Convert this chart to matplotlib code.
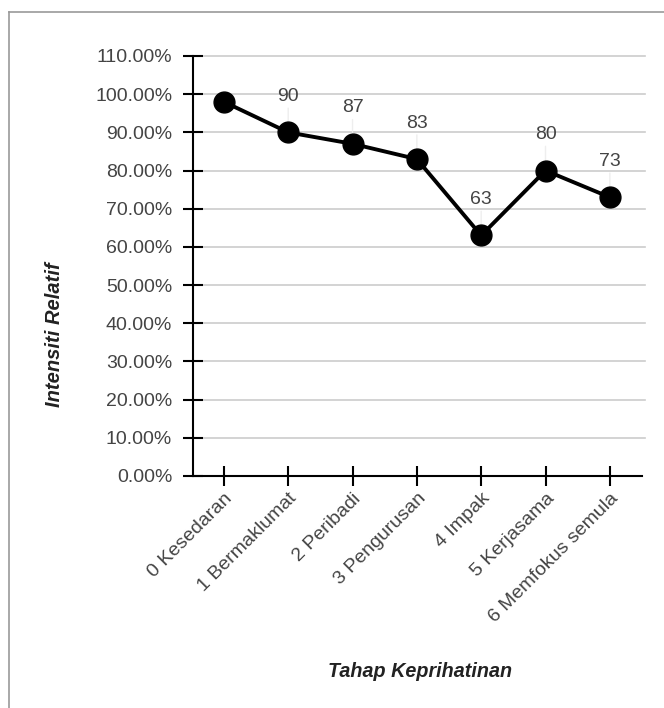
import matplotlib
matplotlib.use("Agg")
import matplotlib.pyplot as plt
from matplotlib.ticker import PercentFormatter
from matplotlib.lines import Line2D

categories = ["0 Kesedaran", "1 Bermaklumat", "2 Peribadi", "3 Pengurusan",
              "4 Impak", "5 Kerjasama", "6 Memfokus semula"]
values = [0.98, 0.90, 0.87, 0.83, 0.63, 0.80, 0.73]
point_labels = ["", "90", "87", "83", "63", "80", "73"]
yticks = [0.0, 0.1, 0.2, 0.3, 0.4, 0.5, 0.6, 0.7, 0.8, 0.9, 1.0, 1.1]

plt.rcParams['font.family'] = ['Liberation Sans', 'DejaVu Sans']

W, H = 664, 708
fig = plt.figure(figsize=(W / 100, H / 100), dpi=100)
ax = fig.add_axes([193 / W, (H - 476) / H, (642 - 193) / W, (476 - 56) / H])

x = list(range(len(categories)))

ax.set_xlim(-0.48, 6.5)
ax.set_ylim(0, 1.1)
ax.set_yticks(yticks)
ax.yaxis.set_major_formatter(PercentFormatter(1.0, decimals=2))
ax.set_xticks(x)
ax.set_xticklabels(categories, rotation=45, ha='right', rotation_mode='anchor')

for yt in yticks[1:]:
    ax.axhline(yt, xmin=0, xmax=1.007, color='#cccccc', lw=1.2, zorder=1, clip_on=False)

# leader lines and value labels
for xi, v, lab in zip(x, values, point_labels):
    if lab:
        ax.annotate(lab, xy=(xi, v), xytext=(0, 36), textcoords='offset pixels',
                    ha='center', va='center', fontsize=14, color='#444444', zorder=2)
        ax.annotate("", xy=(xi, v), xytext=(0, 27), textcoords='offset pixels',
                    arrowprops=dict(arrowstyle='-', color='#eeeeee', lw=1), zorder=2)

ax.plot(x, values, color='black', lw=2.8, marker='o', markersize=15,
        markerfacecolor='black', markeredgecolor='black', zorder=4, clip_on=False)

for s in ['top', 'right']:
    ax.spines[s].set_visible(False)
ax.spines['left'].set_linewidth(1.5)
ax.spines['bottom'].set_linewidth(1.5)
ax.tick_params(axis='both', direction='inout', length=14, width=1.5, color='black',
               labelsize=14, labelcolor='#444444')
ax.tick_params(axis='y', pad=8)
ax.tick_params(axis='x', pad=3)

ax.set_ylabel("Intensiti Relatif", fontsize=14.5, fontstyle='italic', fontweight='bold',
              color='#222222')
ax.set_xlabel("Tahap Keprihatinan", fontsize=14.2, fontstyle='italic', fontweight='bold',
              color='#222222')
ax.xaxis.set_label_coords(420 / W, (H - 662) / H, transform=fig.transFigure)
ax.yaxis.set_label_coords(64 / W, (H - 335) / H, transform=fig.transFigure)

# outer frame (top and left)
fig.add_artist(Line2D([9 / W, 1.0], [1 - 12 / H, 1 - 12 / H], color='#999999', lw=1.2))
fig.add_artist(Line2D([9 / W, 9 / W], [0.0, 1 - 12 / H], color='#999999', lw=1.2))

fig.savefig("out.png", dpi=100)
